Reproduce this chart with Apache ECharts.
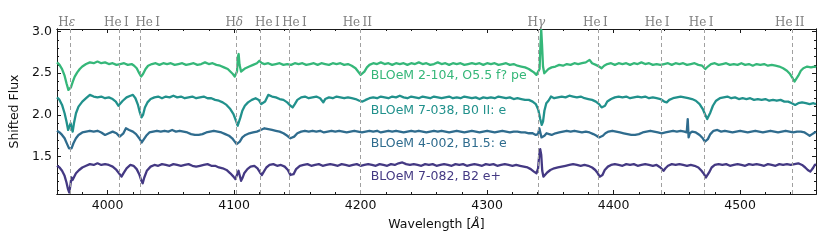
<!DOCTYPE html>
<html><head><meta charset="utf-8">
<script src="https://cdn.jsdelivr.net/npm/echarts@6/dist/echarts.min.js"></script>
<style>html,body{margin:0;padding:0;background:#fff}#c{width:830px;height:249px}</style>
</head><body><div id="c"></div>
<script>
// ---- data ----
const starNames = ['BLOeM 2-104, O5.5 f? pe','BLOeM 7-038, B0 II: e','BLOeM 4-002, B1.5: e','BLOeM 7-082, B2 e+'];
const lineWaves = [3970.1, 4009.3, 4026.2, 4101.7, 4120.8, 4143.8, 4199.8, 4340.5, 4387.9, 4437.6, 4471.5, 4541.6];
const lineNames = ['Hε','He I','He I','Hδ','He I','He I','He II','Hγ','He I','He I','He I','He II'];
const xMajorTicks = [4000,4100,4200,4300,4400,4500];
const yMajorTicks = [1.5,2.0,2.5,3.0];

const spec2104 = [[3960,2.63],[3962,2.60],[3964,2.55],[3966,2.47],[3967.5,2.38],[3969,2.30],[3970,2.28],[3971,2.33],[3972.5,2.40],[3974,2.46],[3976,2.51],[3978,2.55],[3980,2.58],[3983,2.61],[3986,2.63],[3989,2.62],[3992,2.64],[3995,2.62],[3998,2.63],[4001,2.61],[4004,2.62],[4007,2.60],[4010,2.61],[4013,2.62],[4016,2.60],[4019,2.61],[4021,2.59],[4023,2.56],[4025,2.50],[4026.5,2.46],[4028,2.49],[4030,2.55],[4032,2.59],[4035,2.61],[4038,2.62],[4041,2.60],[4044,2.62],[4047,2.61],[4050,2.62],[4053,2.60],[4056,2.61],[4059,2.62],[4062,2.60],[4065,2.61],[4068,2.62],[4071,2.60],[4074,2.61],[4077,2.63],[4080,2.61],[4083,2.62],[4086,2.60],[4089,2.59],[4092,2.57],[4095,2.55],[4097,2.52],[4099,2.49],[4100.5,2.46],[4101.5,2.44],[4102.3,2.52],[4103,2.70],[4103.6,2.73],[4104.3,2.60],[4105.5,2.52],[4107,2.53],[4109,2.56],[4112,2.58],[4115,2.60],[4118,2.62],[4120,2.65],[4121,2.67],[4122,2.62],[4124,2.61],[4127,2.62],[4130,2.60],[4133,2.61],[4136,2.62],[4139,2.60],[4142,2.61],[4145,2.60],[4148,2.62],[4151,2.61],[4154,2.62],[4157,2.60],[4160,2.61],[4163,2.62],[4166,2.60],[4169,2.62],[4172,2.61],[4175,2.60],[4178,2.62],[4181,2.61],[4184,2.62],[4187,2.60],[4190,2.61],[4193,2.59],[4196,2.56],[4198,2.52],[4200,2.48],[4201.5,2.48],[4203,2.52],[4205,2.57],[4207,2.60],[4210,2.62],[4213,2.61],[4216,2.63],[4219,2.61],[4222,2.62],[4225,2.60],[4228,2.62],[4231,2.61],[4234,2.62],[4237,2.60],[4240,2.62],[4243,2.61],[4246,2.63],[4249,2.61],[4252,2.62],[4255,2.60],[4258,2.61],[4261,2.63],[4264,2.61],[4267,2.62],[4270,2.60],[4273,2.62],[4276,2.61],[4279,2.62],[4282,2.60],[4285,2.61],[4288,2.62],[4291,2.61],[4294,2.62],[4297,2.60],[4300,2.62],[4303,2.61],[4306,2.62],[4309,2.60],[4312,2.61],[4315,2.62],[4318,2.60],[4321,2.61],[4324,2.59],[4327,2.58],[4330,2.57],[4333,2.55],[4335,2.53],[4337,2.51],[4339,2.48],[4340.5,2.46],[4341.5,2.55],[4342.2,2.85],[4342.8,3.02],[4343.4,2.85],[4344.2,2.58],[4345.2,2.50],[4346.5,2.52],[4348.5,2.55],[4351,2.57],[4354,2.58],[4357,2.60],[4360,2.59],[4363,2.61],[4366,2.60],[4369,2.62],[4372,2.61],[4375,2.62],[4378,2.63],[4381,2.66],[4383,2.62],[4386,2.60],[4388.5,2.58],[4390.5,2.56],[4392.5,2.59],[4395,2.61],[4398,2.62],[4401,2.60],[4404,2.62],[4407,2.61],[4410,2.62],[4413,2.60],[4416,2.62],[4419,2.61],[4422,2.63],[4425,2.61],[4428,2.62],[4431,2.60],[4434,2.61],[4437,2.60],[4440,2.61],[4443,2.62],[4446,2.60],[4449,2.62],[4452,2.61],[4455,2.62],[4458,2.60],[4461,2.61],[4464,2.62],[4467,2.60],[4470,2.59],[4472.5,2.55],[4474.5,2.58],[4477,2.61],[4480,2.62],[4483,2.60],[4486,2.61],[4489,2.62],[4492,2.60],[4495,2.61],[4498,2.60],[4501,2.62],[4504,2.60],[4507,2.61],[4510,2.59],[4513,2.61],[4516,2.60],[4519,2.61],[4522,2.59],[4525,2.60],[4528,2.59],[4531,2.58],[4534,2.56],[4537,2.53],[4539.5,2.49],[4541.5,2.44],[4543,2.40],[4544.5,2.41],[4546,2.47],[4548,2.53],[4550,2.56],[4553,2.58],[4556,2.57],[4559,2.58],[4560,2.57]];

const spec7038 = [[3960,2.21],[3962,2.18],[3964,2.12],[3966,2.02],[3967.5,1.92],[3968.8,1.82],[3969.8,1.80],[3970.8,1.90],[3971.6,1.84],[3972.4,1.80],[3973.4,1.90],[3975,2.02],[3977,2.10],[3980,2.16],[3983,2.20],[3986,2.24],[3989,2.22],[3992,2.21],[3995,2.22],[3998,2.20],[4001,2.21],[4004,2.19],[4006.5,2.16],[4008.5,2.11],[4010,2.12],[4012,2.17],[4015,2.21],[4018,2.23],[4020,2.24],[4022,2.20],[4024,2.12],[4025.5,2.03],[4026.8,1.97],[4028,2.00],[4029.5,2.09],[4031.5,2.15],[4034,2.19],[4037,2.21],[4040,2.22],[4043,2.20],[4046,2.22],[4049,2.21],[4052,2.23],[4055,2.21],[4058,2.22],[4061,2.20],[4064,2.21],[4067,2.22],[4070,2.20],[4073,2.21],[4076,2.22],[4079,2.20],[4082,2.20],[4085,2.18],[4088,2.17],[4091,2.15],[4094,2.12],[4097,2.07],[4099.5,2.01],[4101.5,1.93],[4102.8,1.87],[4103.8,1.88],[4105,1.97],[4106.5,2.05],[4108.5,2.11],[4111,2.15],[4114,2.18],[4117,2.20],[4119.5,2.18],[4121.5,2.13],[4123,2.11],[4124.5,2.16],[4127,2.24],[4130,2.22],[4133,2.21],[4136,2.19],[4139,2.18],[4142,2.15],[4144.5,2.11],[4146.3,2.09],[4148,2.13],[4150,2.18],[4153,2.21],[4156,2.22],[4159,2.20],[4162,2.21],[4165,2.22],[4168,2.20],[4170.5,2.15],[4172,2.19],[4175,2.21],[4178,2.20],[4181,2.22],[4184,2.21],[4187,2.20],[4190,2.21],[4193,2.20],[4196,2.19],[4199,2.17],[4201.5,2.16],[4204,2.18],[4207,2.20],[4210,2.21],[4213,2.20],[4216,2.22],[4219,2.21],[4222,2.20],[4225,2.22],[4228,2.21],[4231,2.23],[4234,2.21],[4237,2.20],[4240,2.22],[4243,2.21],[4246,2.20],[4249,2.22],[4252,2.21],[4255,2.20],[4258,2.22],[4261,2.21],[4264,2.20],[4267,2.21],[4270,2.22],[4273,2.20],[4276,2.21],[4279,2.20],[4282,2.22],[4285,2.21],[4288,2.20],[4291,2.21],[4294,2.19],[4297,2.21],[4300,2.20],[4303,2.21],[4306,2.20],[4309,2.22],[4312,2.21],[4315,2.20],[4318,2.21],[4321,2.19],[4324,2.20],[4327,2.19],[4330,2.18],[4333,2.18],[4336,2.16],[4338.5,2.13],[4340.5,2.06],[4342,1.95],[4343.2,1.88],[4344.2,1.92],[4345.3,2.05],[4346.8,2.14],[4348.5,2.17],[4350.5,2.22],[4353,2.20],[4356,2.21],[4359,2.22],[4362,2.21],[4365,2.23],[4368,2.22],[4371,2.21],[4374,2.22],[4377,2.20],[4380,2.19],[4383,2.18],[4386,2.16],[4388.5,2.13],[4390.5,2.09],[4391.8,2.08],[4393.2,2.11],[4395,2.16],[4398,2.19],[4401,2.21],[4404,2.22],[4407,2.21],[4410,2.22],[4413,2.20],[4416,2.21],[4419,2.22],[4422,2.21],[4425,2.22],[4428,2.20],[4431,2.21],[4434,2.20],[4437,2.19],[4440,2.16],[4442,2.15],[4444,2.18],[4447,2.20],[4450,2.21],[4453,2.22],[4456,2.21],[4459,2.20],[4462,2.19],[4465,2.17],[4468,2.13],[4470.5,2.07],[4472.5,2.00],[4474,1.95],[4475.2,1.96],[4476.5,2.03],[4478.5,2.11],[4481,2.17],[4484,2.20],[4487,2.21],[4490,2.22],[4493,2.20],[4496,2.21],[4499,2.19],[4502,2.20],[4505,2.19],[4508,2.20],[4511,2.18],[4514,2.19],[4517,2.18],[4520,2.19],[4523,2.17],[4526,2.18],[4529,2.17],[4532,2.18],[4535,2.16],[4538,2.16],[4541,2.14],[4543.5,2.12],[4546,2.14],[4549,2.15],[4552,2.14],[4555,2.13],[4558,2.14],[4560,2.13]];

const spec4002 = [[3960,1.81],[3962,1.79],[3964,1.76],[3966,1.72],[3968,1.65],[3969.5,1.60],[3970.5,1.58],[3971.5,1.60],[3973,1.66],[3975,1.72],[3977,1.76],[3980,1.79],[3983,1.80],[3986,1.81],[3989,1.80],[3992,1.81],[3995,1.79],[3998,1.76],[4001,1.78],[4004,1.80],[4007,1.78],[4009.5,1.74],[4011,1.73],[4012.5,1.78],[4014.5,1.84],[4017,1.82],[4020,1.80],[4022.5,1.77],[4025,1.72],[4027,1.67],[4028.5,1.69],[4030.5,1.75],[4033,1.79],[4036,1.80],[4039,1.81],[4042,1.80],[4045,1.81],[4048,1.80],[4051,1.82],[4054,1.80],[4057,1.81],[4060,1.80],[4063,1.79],[4066,1.77],[4069,1.76],[4072,1.76],[4075,1.77],[4078,1.79],[4081,1.80],[4084,1.81],[4087,1.80],[4090,1.79],[4093,1.77],[4096,1.75],[4098.5,1.72],[4100.5,1.68],[4102,1.65],[4103.2,1.64],[4104.5,1.68],[4106.5,1.73],[4109,1.76],[4112,1.78],[4115,1.79],[4118,1.80],[4121,1.82],[4124,1.84],[4127,1.83],[4130,1.82],[4133,1.81],[4136,1.80],[4139,1.78],[4142,1.75],[4144.5,1.72],[4146,1.71],[4147.5,1.74],[4150,1.78],[4153,1.80],[4156,1.81],[4159,1.80],[4162,1.81],[4165,1.80],[4168,1.81],[4171,1.79],[4174,1.80],[4177,1.81],[4180,1.80],[4183,1.81],[4186,1.80],[4189,1.79],[4192,1.80],[4195,1.81],[4198,1.80],[4201,1.79],[4204,1.80],[4207,1.81],[4210,1.80],[4213,1.81],[4216,1.79],[4219,1.80],[4222,1.81],[4225,1.80],[4228,1.81],[4231,1.80],[4234,1.79],[4237,1.80],[4240,1.81],[4243,1.80],[4246,1.81],[4249,1.80],[4252,1.79],[4255,1.80],[4258,1.81],[4261,1.80],[4264,1.81],[4267,1.80],[4270,1.79],[4273,1.80],[4276,1.81],[4279,1.80],[4282,1.79],[4285,1.80],[4288,1.81],[4291,1.80],[4294,1.79],[4297,1.80],[4300,1.81],[4303,1.80],[4306,1.79],[4309,1.80],[4312,1.81],[4315,1.80],[4318,1.79],[4321,1.80],[4324,1.80],[4327,1.79],[4330,1.79],[4333,1.78],[4336,1.78],[4338.5,1.76],[4340.3,1.77],[4341.3,1.84],[4342.1,1.82],[4343,1.73],[4344,1.71],[4345.3,1.75],[4347,1.78],[4349,1.77],[4351,1.76],[4354,1.78],[4357,1.79],[4360,1.80],[4363,1.81],[4366,1.80],[4369,1.81],[4372,1.80],[4375,1.79],[4378,1.80],[4381,1.79],[4384,1.77],[4386.5,1.75],[4388.5,1.73],[4390,1.72],[4391.5,1.75],[4393.5,1.78],[4396,1.80],[4399,1.81],[4402,1.80],[4405,1.79],[4408,1.78],[4411,1.77],[4414,1.76],[4417,1.76],[4420,1.77],[4423,1.79],[4426,1.80],[4429,1.81],[4432,1.80],[4435,1.79],[4438,1.78],[4441,1.79],[4444,1.80],[4447,1.81],[4450,1.80],[4453,1.81],[4456,1.80],[4457.8,1.79],[4458.6,1.95],[4459.3,1.73],[4460.3,1.78],[4462,1.80],[4465,1.79],[4468,1.76],[4470.5,1.72],[4472.2,1.68],[4473.3,1.67],[4474.5,1.71],[4476.5,1.77],[4479,1.81],[4482,1.82],[4485,1.80],[4488,1.81],[4491,1.80],[4494,1.79],[4497,1.80],[4500,1.81],[4503,1.80],[4506,1.79],[4509,1.80],[4512,1.81],[4515,1.80],[4518,1.79],[4521,1.80],[4524,1.81],[4527,1.80],[4530,1.79],[4533,1.80],[4536,1.81],[4539,1.80],[4542,1.79],[4545,1.80],[4548,1.80],[4551,1.79],[4553,1.77],[4555,1.75],[4557,1.77],[4559,1.79],[4560,1.80]];

const spec7082 = [[3960,1.39],[3962,1.37],[3964,1.33],[3966,1.27],[3967.5,1.19],[3968.7,1.11],[3969.7,1.07],[3970.6,1.16],[3971.4,1.25],[3972.3,1.22],[3973.3,1.25],[3975,1.30],[3977.5,1.34],[3980,1.37],[3983,1.39],[3986,1.41],[3989,1.40],[3992,1.42],[3995,1.40],[3998,1.41],[4001,1.40],[4004,1.38],[4007,1.34],[4009.5,1.29],[4011,1.26],[4012.5,1.30],[4015,1.36],[4018,1.40],[4020.5,1.39],[4023,1.35],[4025,1.29],[4026.5,1.22],[4027.7,1.18],[4029,1.25],[4031,1.33],[4034,1.38],[4037,1.40],[4040,1.39],[4043,1.41],[4046,1.40],[4049,1.39],[4052,1.41],[4055,1.40],[4058,1.39],[4061,1.40],[4064,1.41],[4067,1.39],[4070,1.38],[4073,1.39],[4076,1.40],[4079,1.41],[4082,1.39],[4085,1.39],[4088,1.37],[4091,1.36],[4094,1.34],[4097,1.30],[4099.5,1.26],[4101,1.23],[4102.2,1.24],[4103.5,1.33],[4104.5,1.27],[4105.5,1.21],[4106.5,1.24],[4108,1.30],[4110.5,1.35],[4113,1.38],[4116,1.39],[4118.5,1.36],[4120.5,1.31],[4122,1.28],[4123.5,1.32],[4125.5,1.37],[4128,1.40],[4131,1.41],[4134,1.39],[4137,1.40],[4140,1.38],[4142.5,1.34],[4144.5,1.28],[4145.8,1.26],[4147,1.29],[4149,1.35],[4152,1.39],[4155,1.40],[4158,1.41],[4161,1.39],[4164,1.40],[4167,1.41],[4170,1.39],[4173,1.40],[4176,1.41],[4179,1.40],[4182,1.39],[4185,1.41],[4188,1.40],[4191,1.39],[4194,1.40],[4197,1.41],[4200,1.39],[4203,1.40],[4206,1.41],[4209,1.40],[4212,1.39],[4215,1.41],[4218,1.40],[4221,1.39],[4224,1.41],[4227,1.40],[4230,1.42],[4233,1.43],[4236,1.41],[4239,1.40],[4242,1.41],[4245,1.40],[4248,1.39],[4251,1.41],[4254,1.40],[4257,1.41],[4260,1.39],[4263,1.40],[4266,1.41],[4269,1.40],[4272,1.39],[4275,1.41],[4278,1.40],[4281,1.41],[4284,1.39],[4287,1.40],[4290,1.41],[4293,1.40],[4296,1.39],[4299,1.41],[4302,1.40],[4305,1.41],[4308,1.39],[4311,1.40],[4314,1.41],[4317,1.40],[4320,1.39],[4323,1.40],[4326,1.39],[4329,1.38],[4332,1.37],[4334.5,1.35],[4337,1.32],[4339,1.30],[4340.3,1.36],[4341.2,1.52],[4342,1.59],[4342.8,1.52],[4343.6,1.33],[4344.5,1.26],[4345.7,1.28],[4347.5,1.31],[4350,1.34],[4353,1.36],[4356,1.37],[4359,1.38],[4362,1.39],[4365,1.40],[4368,1.41],[4371,1.40],[4374,1.39],[4377,1.40],[4380,1.39],[4383,1.37],[4385.5,1.34],[4387.5,1.30],[4389,1.26],[4390,1.25],[4391.2,1.28],[4393,1.34],[4395.5,1.38],[4398,1.40],[4401,1.41],[4404,1.40],[4407,1.39],[4410,1.41],[4413,1.40],[4416,1.41],[4419,1.39],[4422,1.40],[4425,1.41],[4428,1.40],[4431,1.39],[4434,1.40],[4437,1.37],[4439.5,1.33],[4441,1.36],[4443,1.39],[4446,1.41],[4449,1.40],[4452,1.41],[4455,1.40],[4458,1.39],[4461,1.40],[4464,1.39],[4467,1.37],[4469.5,1.33],[4471.5,1.29],[4473,1.25],[4474.3,1.26],[4475.5,1.31],[4477.5,1.37],[4480,1.40],[4483,1.41],[4486,1.40],[4489,1.41],[4492,1.39],[4495,1.40],[4498,1.41],[4501,1.40],[4504,1.39],[4507,1.41],[4510,1.40],[4513,1.41],[4516,1.40],[4519,1.39],[4522,1.41],[4525,1.40],[4528,1.39],[4531,1.41],[4534,1.40],[4537,1.41],[4540,1.40],[4543,1.41],[4546,1.42],[4549,1.40],[4551.5,1.37],[4553.5,1.34],[4555.5,1.32],[4557.5,1.36],[4559,1.40],[4560,1.41]];

const spectra = [spec2104, spec7038, spec4002, spec7082];
const labelAnchors = [[4208, 2.468], [4208, 2.048], [4208, 1.66], [4208, 1.26]];

// ---- styling ----
const colors = ['#35b779', '#21918c', '#2f6c8e', '#443983'];
const lineLabelShift = [-3, -3, 7, -2, 7, 5, -3, -2, -3, -4, -3, -3]; // px, label nudges
const XMIN = 3960, XMAX = 4560, YMIN = 1.052, YMAX = 3.03;
const xMinor = [], yMinor = [];
for (let v = 3980; v <= 4560; v += 20) if (v % 100 !== 0) xMinor.push(v);
for (let k = 11; k <= 30; k++) if (k % 5 !== 0) yMinor.push(k / 10);

const sans = 'DejaVu Sans';
function xAx(pos, vals, len, lab) {
  return {
    type: 'value', position: pos, min: XMIN, max: XMAX,
    axisLine: { show: true, onZero: false, lineStyle: { color: '#1a1a1a', width: 1 } },
    axisTick: { show: true, inside: true, length: len, customValues: vals, lineStyle: { color: '#1a1a1a', width: 1 } },
    axisLabel: { show: lab, customValues: vals, margin: 5, color: '#111', fontSize: 12.5, fontFamily: sans,
      formatter: v => String(Math.round(v)) },
    splitLine: { show: false }
  };
}
function yAx(pos, vals, len, lab) {
  return {
    type: 'value', position: pos, min: YMIN, max: YMAX,
    axisLine: { show: true, onZero: false, lineStyle: { color: '#1a1a1a', width: 1 } },
    axisTick: { show: true, inside: true, length: len, customValues: vals, lineStyle: { color: '#1a1a1a', width: 1 } },
    axisLabel: { show: lab, customValues: vals, margin: 5, color: '#111', fontSize: 12.5, fontFamily: sans,
      formatter: v => v.toFixed(1) },
    splitLine: { show: false }
  };
}
const xAxes = [xAx('bottom', xMajorTicks, 4, true), xAx('bottom', xMinor, 2, false), xAx('top', xMajorTicks, 4, false), xAx('top', xMinor, 2, false)];
xAxes[0].name = '{n|Wavelength [}{i|Å}{n|]}';
xAxes[0].nameLocation = 'middle';
xAxes[0].nameGap = 24;
xAxes[0].nameTextStyle = { rich: { n: { fontSize: 12.5, fontFamily: sans, color: '#111' }, i: { fontSize: 12.5, fontFamily: sans, fontStyle: 'italic', color: '#111' } } };
const yAxes = [yAx('left', yMajorTicks, 4, true), yAx('left', yMinor, 2, false), yAx('right', yMajorTicks, 4, false), yAx('right', yMinor, 2, false)];
yAxes[0].name = 'Shifted Flux';
yAxes[0].nameLocation = 'middle';
yAxes[0].nameGap = 31;
yAxes[0].nameTextStyle = { fontSize: 12.5, fontFamily: sans, color: '#111' };

const labelRich = {
  r: { fontFamily: 'DejaVu Serif', fontSize: 12, color: '#808080' },
  g: { fontFamily: 'DejaVu Serif', fontSize: 12, fontStyle: 'italic', color: '#808080' }
};
for (let w = 1; w <= 8; w++) labelRich['s' + w] = { width: 2 * w, fontSize: 12 };
function lineLabel(name, shift) {
  let core;
  if (/[εδγ]/.test(name)) core = '{r|' + name[0] + '}{g|' + name.slice(1) + '}';
  else core = '{r|' + name.replace(' ', '\u2009') + '}';
  const s = Math.abs(shift);
  if (!s) return core;
  const sp = '{s' + s + '| }';
  return shift > 0 ? sp + core : core + sp;
}

const series = [{
  type: 'line', data: [], xAxisIndex: 0, yAxisIndex: 0, silent: true, z: 1,
  markLine: {
    symbol: 'none', silent: true, animation: false,
    lineStyle: { type: [4, 3], color: '#a0a0a0', width: 1 },
    label: { show: true, position: 'end', distance: 0, rich: labelRich },
    data: lineWaves.map((w, i) => ({
      xAxis: w, name: lineNames[i],
      label: { formatter: lineLabel(lineNames[i], lineLabelShift[i]) }
    }))
  }
}];
spectra.forEach((d, i) => {
  series.push({
    type: 'line', name: starNames[i], data: d, xAxisIndex: 0, yAxisIndex: 0, z: 3,
    showSymbol: false, symbol: 'none', clip: true, animation: false,
    lineStyle: { color: colors[i], width: 2.3, join: 'round' },
    markPoint: {
      symbol: 'circle', symbolSize: 0, silent: true, animation: false,
      label: { show: true, position: 'right', distance: 0, color: colors[i], fontSize: 12.5, fontFamily: sans, formatter: '{b}' },
      data: [{ coord: labelAnchors[i], name: starNames[i] }]
    }
  });
});

const chart = echarts.init(document.getElementById('c'), null, { renderer: 'canvas' });
chart.setOption({
  animation: false,
  backgroundColor: '#fff',
  grid: { left: 57, right: 14, top: 29, bottom: 55, containLabel: false },
  xAxis: xAxes, yAxis: yAxes, series
});
</script></body></html>
